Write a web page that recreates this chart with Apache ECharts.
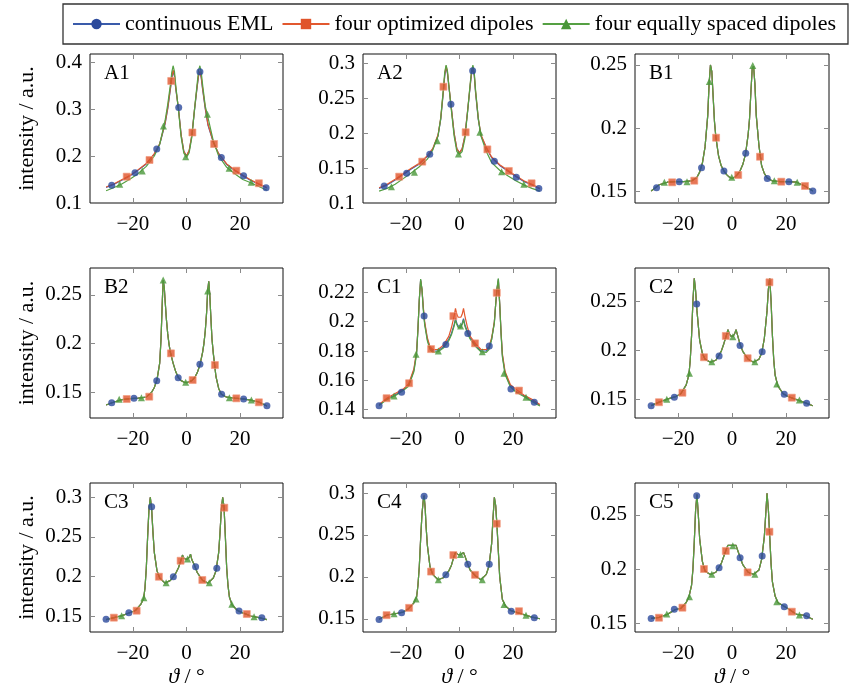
<!DOCTYPE html>
<html>
<head>
<meta charset="utf-8">
<script src="https://cdn.jsdelivr.net/npm/echarts@6/dist/echarts.min.js"></script>
<style>
html,body{margin:0;padding:0;background:#fff;}
#chart{width:853px;height:696px;}
</style>
</head>
<body>
<div id="chart"></div>
<script>
// ---------- data ----------
const SERIES_NAMES = ['continuous EML', 'four optimized dipoles', 'four equally spaced dipoles'];
const X_TICKS = [-20, 0, 20];

// A1
const A1_x = [-30,-27,-24,-21,-18,-15,-12,-10,-8,-7,-6,-5.5,-5,-4.5,-4,-3,-2,-1,0,1,2,3,4,4.5,5,5.5,6,7,8,10,12,15,18,21,24,27,30];
const A1_blue = [0.133,0.140,0.149,0.158,0.170,0.183,0.204,0.225,0.268,0.300,0.342,0.365,0.380,0.370,0.342,0.302,0.245,0.210,0.200,0.211,0.244,0.298,0.348,0.370,0.379,0.366,0.342,0.300,0.266,0.229,0.205,0.182,0.169,0.158,0.148,0.140,0.132];
const A1_red = [0.134,0.141,0.150,0.159,0.171,0.184,0.205,0.226,0.270,0.303,0.345,0.368,0.383,0.372,0.345,0.300,0.245,0.210,0.200,0.212,0.245,0.300,0.350,0.372,0.380,0.368,0.345,0.303,0.268,0.230,0.205,0.183,0.170,0.159,0.149,0.141,0.133];
const A1_green = [0.126,0.133,0.141,0.151,0.163,0.178,0.200,0.225,0.275,0.310,0.352,0.378,0.392,0.380,0.350,0.298,0.240,0.206,0.197,0.207,0.240,0.300,0.355,0.382,0.392,0.378,0.352,0.306,0.282,0.232,0.200,0.176,0.162,0.150,0.143,0.135,0.127];
const A1_mBlue = [[-27.9,0.138],[-19.2,0.1645],[-11.1,0.215],[-2.9,0.303],[5.0,0.379],[13.0,0.197],[21.3,0.158],[29.7,0.1326]];
const A1_mRed = [[-22.3,0.156],[-13.8,0.1915],[-5.7,0.3596],[2.2,0.250],[10.3,0.2255],[18.6,0.1688],[27.0,0.142]];
const A1_mGreen = [[-24.9,0.140],[-16.5,0.168],[-8.6,0.264],[-0.3,0.1985],[7.8,0.289],[15.9,0.174],[24.1,0.144]];
const A1_yTicks = [0.1,0.2,0.3,0.4];

// A2
const A2_x = [-30,-27,-24,-21,-18,-15,-12,-10,-8,-7,-6,-5.5,-5,-4.5,-4,-3,-2,-1,0,1,2,3,4,4.5,5,5.5,6,7,8,10,12,15,18,21,24,27,30];
const A2_blue = [0.121,0.126,0.133,0.141,0.149,0.156,0.167,0.177,0.197,0.220,0.260,0.283,0.295,0.286,0.268,0.235,0.200,0.178,0.172,0.178,0.196,0.231,0.268,0.286,0.292,0.283,0.258,0.220,0.197,0.179,0.165,0.154,0.146,0.138,0.131,0.126,0.120];
const A2_red = [0.122,0.127,0.134,0.142,0.150,0.157,0.168,0.178,0.198,0.222,0.262,0.285,0.297,0.288,0.270,0.235,0.200,0.178,0.172,0.178,0.196,0.232,0.270,0.288,0.296,0.285,0.260,0.222,0.198,0.180,0.166,0.155,0.147,0.139,0.132,0.127,0.121];
const A2_green = [0.117,0.121,0.127,0.135,0.143,0.152,0.163,0.176,0.196,0.222,0.265,0.288,0.298,0.290,0.270,0.232,0.196,0.174,0.170,0.174,0.192,0.230,0.272,0.290,0.298,0.288,0.262,0.222,0.196,0.174,0.158,0.147,0.139,0.132,0.126,0.121,0.117];
const A2_mBlue = [[-28.1,0.1244],[-19.7,0.1427],[-11.1,0.170],[-3.2,0.2418],[4.9,0.290],[13.0,0.160],[21.2,0.137],[29.6,0.121]];
const A2_mRed = [[-22.5,0.1378],[-13.9,0.1594],[-6.0,0.267],[2.3,0.2016],[10.4,0.177],[18.4,0.146],[26.9,0.1283]];
const A2_mGreen = [[-25.4,0.1235],[-16.8,0.144],[-8.3,0.1895],[-0.4,0.1704],[7.6,0.2016],[15.7,0.145],[24.0,0.127]];
const A2_yTicks = [0.1,0.15,0.2,0.25,0.3];

// B1
const B1_x = [-30,-27,-24,-21,-18,-15,-13,-12,-11,-10,-9,-8.5,-8,-7.5,-7,-6.5,-6,-5,-4,-3,-2,-1,0,1,2,3,4,5,6,6.5,7,7.5,8,8.5,9,10,11,12,13,15,18,21,24,27,30];
const B1_y = [0.150,0.155,0.157,0.1575,0.1575,0.158,0.161,0.165,0.172,0.185,0.210,0.235,0.250,0.245,0.225,0.205,0.193,0.178,0.170,0.166,0.163,0.161,0.160,0.161,0.163,0.166,0.171,0.179,0.195,0.207,0.228,0.247,0.249,0.235,0.210,0.186,0.170,0.164,0.1605,0.158,0.1575,0.1575,0.157,0.154,0.150];
const B1_mBlue = [[-28,0.1526],[-19.6,0.1574],[-11.3,0.1685],[-3.0,0.1659],[5.1,0.180],[13.1,0.160],[21.1,0.1574],[30,0.150]];
const B1_mRed = [[-22.2,0.1569],[-14,0.1582],[-5.9,0.1923],[2.3,0.1627],[10.4,0.1772],[18.3,0.1574],[27.1,0.154]];
const B1_mGreen = [[-25.1,0.1569],[-16.7,0.1574],[-8.4,0.2368],[-0.1,0.1609],[7.7,0.2495],[15.7,0.1582],[24.2,0.157]];
const B1_yTicks = [0.15,0.2,0.25];

// B2
const B2_x = [-30,-27,-24,-21,-18,-15,-13,-12,-11,-10,-9.5,-9,-8.7,-8.3,-8,-7.5,-7,-6.5,-6,-5,-4,-3,-2,-1,0,1,2,3,4,5,6,6.5,7,7.5,7.9,8.3,8.7,9,9.5,10,11,12,13,15,18,21,24,27,30];
const B2_y = [0.137,0.140,0.1425,0.1435,0.144,0.145,0.150,0.155,0.163,0.180,0.205,0.245,0.265,0.258,0.245,0.225,0.210,0.199,0.191,0.180,0.171,0.165,0.162,0.1605,0.160,0.1608,0.162,0.165,0.170,0.178,0.191,0.200,0.213,0.232,0.254,0.264,0.250,0.232,0.205,0.190,0.166,0.154,0.148,0.145,0.144,0.1432,0.142,0.140,0.136];
const B2_mBlue = [[-27.9,0.1393],[-19.6,0.1438],[-11.1,0.1619],[-3.1,0.165],[5.0,0.1788],[13.1,0.148],[21.3,0.1431],[30,0.1362]];
const B2_mRed = [[-22.3,0.1431],[-13.9,0.1455],[-5.8,0.190],[2.3,0.1626],[10.6,0.178],[18.6,0.1438],[27,0.1397]];
const B2_mGreen = [[-25.1,0.1428],[-16.8,0.1445],[-8.7,0.2653],[-0.3,0.1603],[7.9,0.254],[16,0.1445],[24.2,0.142]];
const B2_yTicks = [0.15,0.2,0.25];

// C1
const C1_x = [-30,-27,-24,-21,-19,-17,-16,-15.5,-15,-14.5,-14,-13.5,-13,-12,-11,-10,-8,-6,-4,-3,-2,-1.5,-1,-0.5,0,0.5,1,1.5,2,3,4,6,8,10,11,12,13,13.5,14,14.5,15,15.5,16,17,19,21,24,27,30];
const C1_blue = [0.143,0.1475,0.150,0.1535,0.1565,0.167,0.179,0.195,0.215,0.2285,0.222,0.209,0.199,0.188,0.182,0.180,0.180,0.183,0.188,0.192,0.198,0.202,0.199,0.197,0.1965,0.197,0.199,0.202,0.198,0.193,0.189,0.184,0.180,0.180,0.182,0.188,0.1995,0.212,0.2225,0.229,0.212,0.1925,0.177,0.165,0.156,0.1525,0.1495,0.146,0.143];
const C1_red = [0.1435,0.148,0.151,0.154,0.1575,0.168,0.180,0.195,0.215,0.228,0.222,0.210,0.200,0.189,0.183,0.181,0.181,0.184,0.190,0.196,0.204,0.209,0.205,0.203,0.2025,0.203,0.205,0.209,0.204,0.196,0.190,0.185,0.181,0.181,0.183,0.189,0.200,0.212,0.222,0.228,0.212,0.193,0.178,0.166,0.157,0.154,0.150,0.147,0.1435];
const C1_green = [0.1428,0.147,0.1495,0.153,0.156,0.166,0.178,0.195,0.215,0.229,0.222,0.208,0.198,0.187,0.181,0.179,0.1795,0.182,0.187,0.191,0.197,0.201,0.198,0.196,0.1955,0.196,0.198,0.2013,0.197,0.192,0.188,0.183,0.1795,0.179,0.181,0.188,0.199,0.212,0.223,0.2295,0.212,0.192,0.176,0.164,0.1555,0.152,0.149,0.1455,0.1425];
const C1_mBlue = [[-30,0.1427],[-21.6,0.1518],[-13.2,0.2038],[-5.1,0.1845],[3.1,0.192],[11.1,0.1834],[19.2,0.1541],[27.9,0.145]];
const C1_mRed = [[-27.2,0.1478],[-18.8,0.158],[-10.6,0.1813],[-2.3,0.2038],[5.8,0.1852],[13.9,0.2197],[22.2,0.153]];
const C1_mGreen = [[-24.4,0.1493],[-16.2,0.1777],[-7.9,0.180],[0.4,0.197],[8.5,0.1795],[16.6,0.1648],[24.8,0.1484]];
const C1_yTicks = [0.14,0.16,0.18,0.2,0.22];

// C2
const C2_x = [-30,-27,-24,-21,-19,-17,-16,-15.5,-15,-14.5,-14,-13.5,-13,-12,-11,-10,-8,-6,-4,-3,-2,-1.5,-1,-0.5,0,0.5,1,1.5,2,3,4,6,8,10,11,12,13,13.5,14,14.5,15,15.5,16,17,19,21,24,27,30];
const C2_y = [0.144,0.1475,0.1505,0.153,0.156,0.165,0.175,0.190,0.215,0.250,0.273,0.260,0.240,0.210,0.197,0.191,0.188,0.190,0.199,0.207,0.216,0.221,0.217,0.2145,0.2138,0.2145,0.217,0.221,0.216,0.206,0.199,0.191,0.188,0.191,0.197,0.212,0.240,0.262,0.273,0.250,0.215,0.190,0.175,0.164,0.156,0.153,0.150,0.147,0.1438];
const C2_mBlue = [[-30,0.1439],[-21.4,0.1524],[-13.1,0.247],[-4.8,0.1943],[3.0,0.2048],[11.2,0.1987],[19.4,0.1555],[27.7,0.1463]];
const C2_mRed = [[-27.1,0.1474],[-18.4,0.157],[-10.4,0.193],[-2.3,0.2146],[5.8,0.192],[13.9,0.269],[22.2,0.152]];
const C2_mGreen = [[-24.2,0.1504],[-15.8,0.1768],[-7.5,0.1885],[0.3,0.2139],[8.5,0.1885],[16.6,0.1659],[25,0.1497]];
const C2_yTicks = [0.15,0.2,0.25];

// C3
const C3_x = [-30,-27,-24,-21,-19,-17,-16,-15.5,-15,-14.5,-14,-13.5,-13,-12.5,-12,-11,-10,-8,-6,-4,-3,-2,-1.5,-1,-0.5,0,0.5,1,1.5,2,3,4,6,8,10,11,12,12.5,13,13.5,14,14.5,15,15.5,16,17,19,21,24,27,30];
const C3_y = [0.1455,0.148,0.1505,0.1545,0.157,0.165,0.172,0.185,0.210,0.250,0.285,0.300,0.285,0.255,0.230,0.207,0.198,0.1915,0.195,0.204,0.211,0.221,0.227,0.223,0.2215,0.2213,0.2218,0.224,0.228,0.221,0.214,0.205,0.195,0.1915,0.198,0.207,0.230,0.255,0.285,0.300,0.288,0.250,0.210,0.188,0.174,0.164,0.157,0.154,0.150,0.148,0.1455];
const C3_mBlue = [[-30,0.1458],[-21.5,0.1542],[-13,0.288],[-4.9,0.1996],[3.4,0.2123],[11.3,0.2102],[19.6,0.1563],[28.1,0.1479]];
const C3_mRed = [[-27.1,0.1479],[-18.6,0.1567],[-10.3,0.1996],[-2.2,0.2198],[5.9,0.1955],[14.1,0.2868],[22.5,0.1525]];
const C3_mGreen = [[-24.2,0.1504],[-15.9,0.1731],[-7.6,0.192],[0.4,0.222],[8.5,0.192],[16.9,0.1648],[25.2,0.1491]];
const C3_yTicks = [0.15,0.2,0.25,0.3];

// C4
const C4_x = [-30,-27,-24,-21,-19,-17,-16,-15.5,-15,-14.5,-14,-13.5,-13.2,-12.8,-12.5,-12,-11,-10,-8,-6,-4,-3,-2,-1.5,-1,-0.5,0,0.5,1,1.5,2,3,4,6,8,10,11,12,12.5,13,13.5,14,14.5,15,16,17,19,21,24,27,30];
const C4_y = [0.1495,0.1545,0.156,0.158,0.162,0.169,0.176,0.190,0.212,0.245,0.275,0.292,0.297,0.282,0.262,0.238,0.212,0.203,0.1965,0.199,0.207,0.214,0.225,0.229,0.2275,0.2265,0.2262,0.2265,0.2275,0.229,0.225,0.216,0.208,0.201,0.1965,0.203,0.213,0.240,0.270,0.295,0.285,0.260,0.230,0.200,0.173,0.166,0.160,0.158,0.155,0.152,0.150];
const C4_mBlue = [[-30,0.1492],[-21.6,0.1571],[-13.2,0.2961],[-5.1,0.2024],[3.1,0.215],[11.1,0.215],[19.3,0.159],[27.9,0.1512]];
const C4_mRed = [[-27.2,0.1543],[-18.8,0.163],[-10.6,0.2063],[-2.3,0.226],[5.8,0.2024],[13.9,0.2635],[22.2,0.159]];
const C4_mGreen = [[-24.4,0.1559],[-16.2,0.1736],[-7.9,0.1965],[0.4,0.2268],[8.5,0.1965],[16.6,0.1669],[24.8,0.1543]];
const C4_yTicks = [0.15,0.2,0.25,0.3];

// C5
const C5_x = [-30,-27,-24,-21,-19,-17,-16,-15,-14.5,-14,-13.5,-13,-12.5,-12,-11,-10,-8,-6,-4,-3,-2,-1.5,-1,-0.5,0,0.5,1,1.5,2,3,4,6,8,10,11,12,12.5,13,13.5,14,14.5,15,16,17,19,21,24,27,30];
const C5_y = [0.1543,0.1553,0.158,0.1625,0.1635,0.169,0.174,0.185,0.200,0.225,0.255,0.269,0.250,0.228,0.207,0.198,0.195,0.197,0.205,0.212,0.219,0.222,0.2222,0.2218,0.2215,0.2218,0.2222,0.222,0.218,0.211,0.204,0.197,0.195,0.199,0.209,0.230,0.250,0.270,0.255,0.230,0.205,0.188,0.175,0.169,0.166,0.163,0.158,0.157,0.1535];
const C5_mBlue = [[-30,0.1543],[-21.4,0.1627],[-13.1,0.2679],[-4.8,0.2012],[3.0,0.2105],[11.2,0.212],[19.4,0.1651],[27.7,0.1568]];
const C5_mRed = [[-27.1,0.1549],[-18.4,0.1642],[-10.4,0.200],[-2.3,0.2167],[5.8,0.1969],[13.9,0.2345],[22.2,0.1605]];
const C5_mGreen = [[-24.2,0.1583],[-15.8,0.1744],[-7.5,0.1951],[0.3,0.2215],[8.5,0.1951],[16.6,0.1697],[25,0.1574]];
const C5_yTicks = [0.15,0.2,0.25];

// ---------- panel setup ----------
const panels = [
  {label:'A1', x:A1_x, blue:A1_blue, red:A1_red, green:A1_green, mb:A1_mBlue, mr:A1_mRed, mg:A1_mGreen, ticks:A1_yTicks, yMin:0.1, yMax:0.417},
  {label:'A2', x:A2_x, blue:A2_blue, red:A2_red, green:A2_green, mb:A2_mBlue, mr:A2_mRed, mg:A2_mGreen, ticks:A2_yTicks, yMin:0.1, yMax:0.314},
  {label:'B1', x:B1_x, blue:B1_y, red:B1_y, green:B1_y, mb:B1_mBlue, mr:B1_mRed, mg:B1_mGreen, ticks:B1_yTicks, yMin:0.1405, yMax:0.2587},
  {label:'B2', x:B2_x, blue:B2_y, red:B2_y, green:B2_y, mb:B2_mBlue, mr:B2_mRed, mg:B2_mGreen, ticks:B2_yTicks, yMin:0.1236, yMax:0.2777},
  {label:'C1', x:C1_x, blue:C1_blue, red:C1_red, green:C1_green, mb:C1_mBlue, mr:C1_mRed, mg:C1_mGreen, ticks:C1_yTicks, yMin:0.1343, yMax:0.2366},
  {label:'C2', x:C2_x, blue:C2_y, red:C2_y, green:C2_y, mb:C2_mBlue, mr:C2_mRed, mg:C2_mGreen, ticks:C2_yTicks, yMin:0.1314, yMax:0.2835},
  {label:'C3', x:C3_x, blue:C3_y, red:C3_y, green:C3_y, mb:C3_mBlue, mr:C3_mRed, mg:C3_mGreen, ticks:C3_yTicks, yMin:0.1298, yMax:0.318},
  {label:'C4', x:C4_x, blue:C4_y, red:C4_y, green:C4_y, mb:C4_mBlue, mr:C4_mRed, mg:C4_mGreen, ticks:C4_yTicks, yMin:0.1342, yMax:0.312},
  {label:'C5', x:C5_x, blue:C5_y, red:C5_y, green:C5_y, mb:C5_mBlue, mr:C5_mRed, mg:C5_mGreen, ticks:C5_yTicks, yMin:0.1417, yMax:0.2796}
];

const FONT = 'Liberation Serif';
const colLeft = [90, 363, 635];
const colWidth = [193, 193, 194];
const rowTop = [54, 268, 483];
const rowHeight = [149, 150, 149];

const LINE_COL = {blue:'#3A5BAA', red:'#E2582F', green:'#55A043'};
const MARK_COL = {blue:'#2C4A9C', red:'#E0542B', green:'#4A973A'};
const TICK_COLOR = '#8a8a8a';

const fmtX = v => (v < 0 ? '\u2212' + Math.abs(v) : String(v));

const grids = [], xAxes = [], yAxes = [], series = [], titles = [];

panels.forEach((p, i) => {
  const r = Math.floor(i / 3), c = i % 3;
  grids.push({left: colLeft[c], top: rowTop[r], width: colWidth[c], height: rowHeight[r],
    show: true, borderColor: '#111', borderWidth: 1, backgroundColor: 'transparent', containLabel: false});
  const tickStyle = {inside: true, length: 5, lineStyle: {color: TICK_COLOR, width: 1}};
  const noLine = {show: false, onZero: false};
  xAxes.push({
    gridIndex: i, type: 'value', min: -36, max: 36, position: 'bottom',
    axisLine: noLine, splitLine: {show: false},
    axisTick: Object.assign({customValues: X_TICKS}, tickStyle),
    axisLabel: {customValues: X_TICKS, formatter: fmtX, fontFamily: FONT, fontSize: 21, color: '#000', margin: 11},
    name: r === 2 ? '{i|\u03D1} / \u00B0' : '',
    nameLocation: 'middle', nameGap: 34,
    nameTextStyle: {fontFamily: FONT, fontSize: 22, color: '#000',
      rich: {i: {fontFamily: FONT, fontSize: 22, fontStyle: 'italic', color: '#000'}}}
  });
  xAxes.push({
    gridIndex: i, type: 'value', min: -36, max: 36, position: 'top',
    axisLine: noLine, splitLine: {show: false},
    axisTick: Object.assign({customValues: X_TICKS}, tickStyle),
    axisLabel: {show: false}
  });
  yAxes.push({
    gridIndex: i, type: 'value', min: p.yMin, max: p.yMax, position: 'left',
    axisLine: noLine, splitLine: {show: false},
    axisTick: Object.assign({customValues: p.ticks}, tickStyle),
    axisLabel: {customValues: p.ticks, fontFamily: FONT, fontSize: 21, color: '#000', margin: 8},
    name: c === 0 ? 'intensity / a.u.' : '',
    nameLocation: 'middle', nameRotate: 90, nameGap: 52,
    nameTextStyle: {fontFamily: FONT, fontSize: 22, color: '#000'}
  });
  yAxes.push({
    gridIndex: i, type: 'value', min: p.yMin, max: p.yMax, position: 'right',
    axisLine: noLine, splitLine: {show: false},
    axisTick: Object.assign({customValues: p.ticks}, tickStyle),
    axisLabel: {show: false}
  });
  const xi = 2 * i, yi = 2 * i;
  const lineDefs = [
    {key: 'blue', name: SERIES_NAMES[0], symbol: 'circle'},
    {key: 'red', name: SERIES_NAMES[1], symbol: 'rect'},
    {key: 'green', name: SERIES_NAMES[2], symbol: 'triangle'}
  ];
  lineDefs.forEach(d => {
    series.push({
      type: 'line', name: d.name, xAxisIndex: xi, yAxisIndex: yi,
      data: p.x.map((xv, k) => [xv, p[d.key][k]]),
      symbol: d.symbol, showSymbol: false, symbolSize: 7,
      color: MARK_COL[d.key],
      itemStyle: {color: MARK_COL[d.key]},
      lineStyle: {color: LINE_COL[d.key], width: 1.2},
      z: 2, animation: false, silent: true
    });
  });
  const markDefs = [
    {key: 'blue', arr: p.mb, name: SERIES_NAMES[0], symbol: 'circle', size: 7},
    {key: 'red', arr: p.mr, name: SERIES_NAMES[1], symbol: 'rect', size: 7},
    {key: 'green', arr: p.mg, name: SERIES_NAMES[2], symbol: 'triangle', size: 7}
  ];
  markDefs.forEach(d => {
    series.push({
      type: 'scatter', name: d.name, xAxisIndex: xi, yAxisIndex: yi,
      data: d.arr, symbol: d.symbol, symbolSize: d.size,
      itemStyle: d.key === 'red'
        ? {color: MARK_COL.red, borderColor: '#F29A7E', borderWidth: 0.8}
        : {color: MARK_COL[d.key]},
      z: 3, animation: false, silent: true
    });
  });
  titles.push({
    text: p.label, left: colLeft[c] + 14, top: rowTop[r] + 9, padding: 0,
    textStyle: {fontFamily: FONT, fontSize: 21, fontWeight: 'normal', color: '#000'}
  });
});

const chart = echarts.init(document.getElementById('chart'), null, {renderer: 'canvas'});
chart.setOption({
  backgroundColor: '#fff',
  animation: false,
  title: titles,
  legend: {
    data: SERIES_NAMES, left: 63, top: 4, orient: 'horizontal',
    itemWidth: 47, itemHeight: 13, itemGap: 8,
    padding: [9, 12, 9, 9],
    borderColor: '#333', borderWidth: 1.3,
    selectedMode: false,
    textStyle: {fontFamily: FONT, fontSize: 22, color: '#000'}
  },
  grid: grids,
  xAxis: xAxes,
  yAxis: yAxes,
  series: series
});
</script>
</body>
</html>
